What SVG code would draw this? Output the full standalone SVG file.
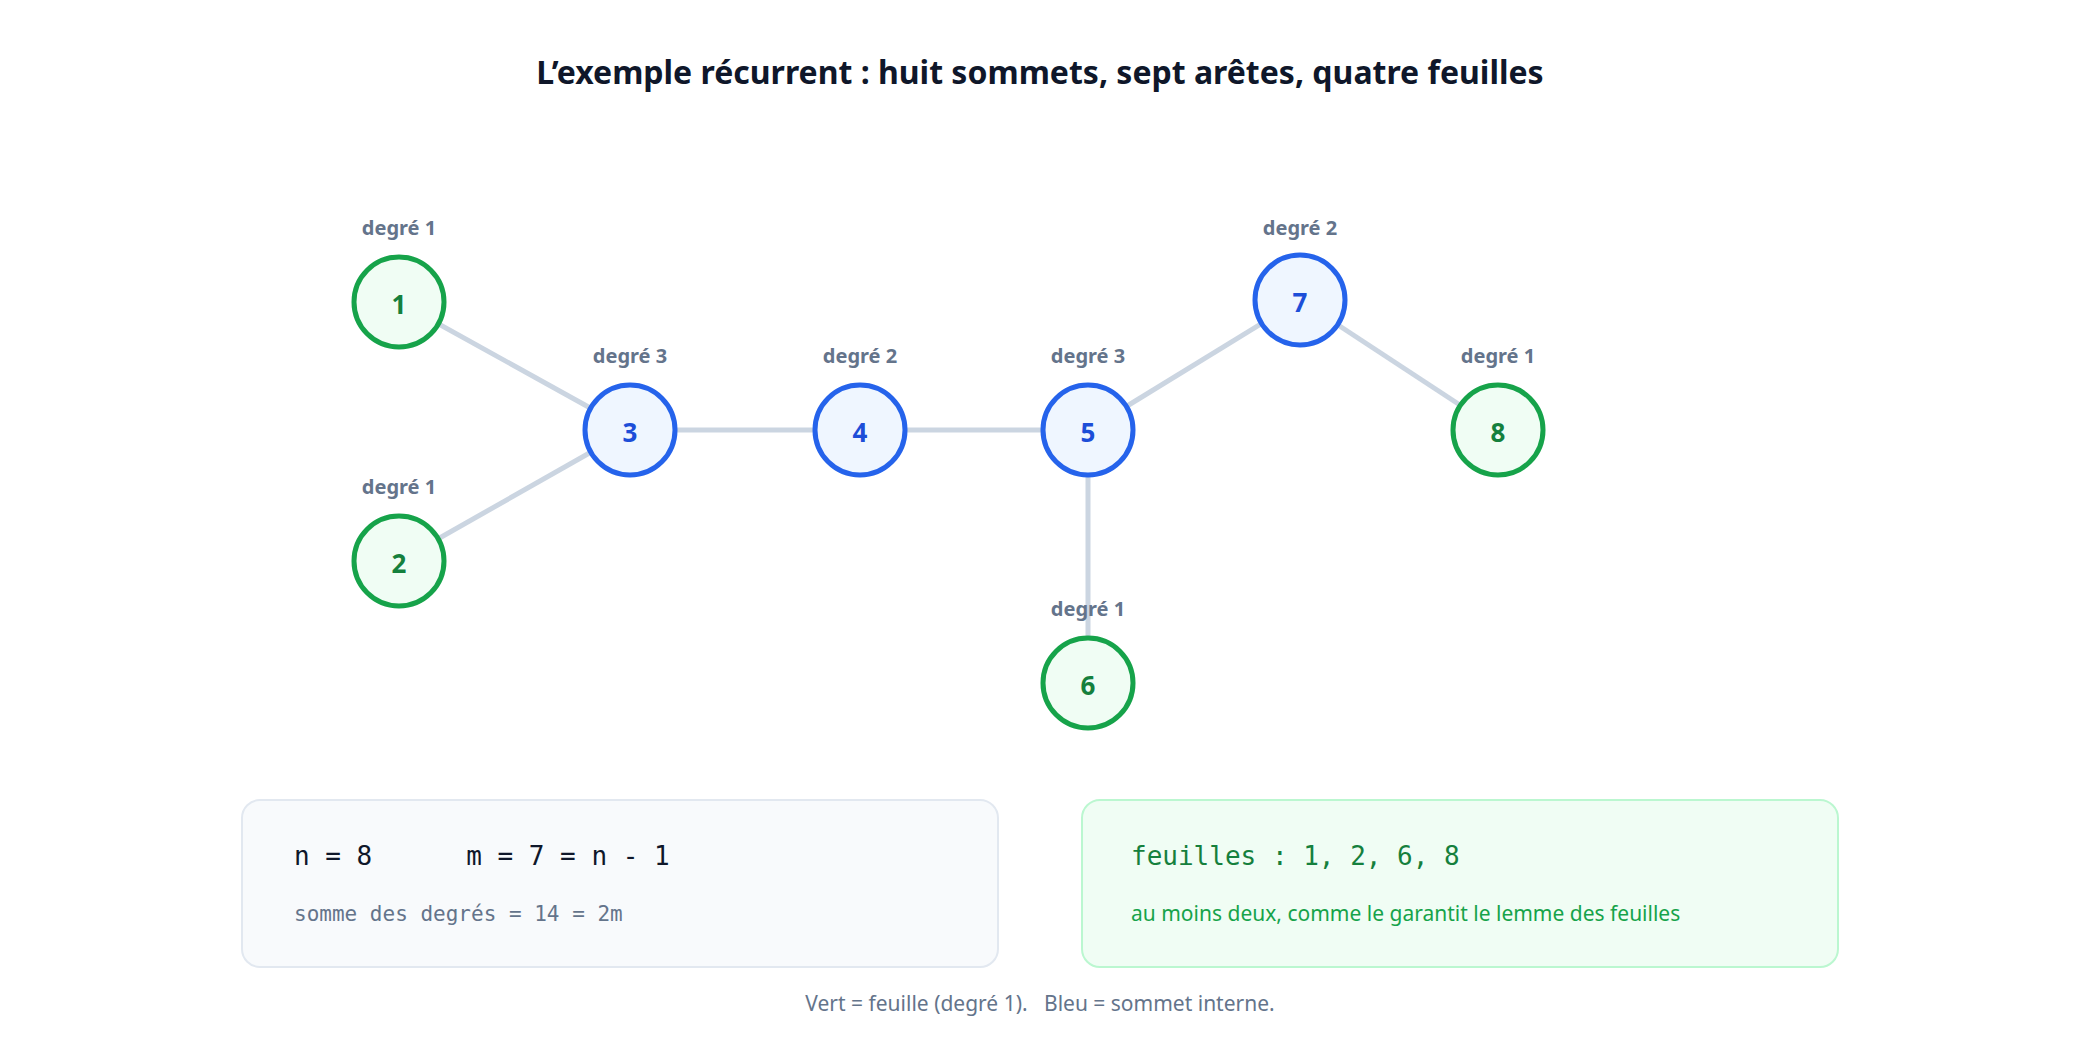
<svg xmlns="http://www.w3.org/2000/svg" width="2080" height="1040" viewBox="0 0 2080 1040">
<style>
text{font-family:"Noto Sans","Open Sans",sans-serif}
.t{font-size:32px;font-weight:bold;fill:#0f172a;text-anchor:middle}
.e{stroke:#cbd5e1;stroke-width:5;fill:none}
.lf circle{fill:#f0fdf4;stroke:#16a34a;stroke-width:5}
.in circle{fill:#eff6ff;stroke:#2563eb;stroke-width:5}
.lf .n{fill:#15803d}
.in .n{fill:#1d4ed8}
.n{font-size:26px;font-weight:bold;text-anchor:middle;dominant-baseline:central}
.d{font-size:20px;font-weight:bold;fill:#64748b;text-anchor:middle}
.m{font-family:"DejaVu Sans Mono",monospace}
</style>
<rect width="2080" height="1040" fill="#fff"/>
<text class="t" x="1040" y="84">L’exemple récurrent : huit sommets, sept arêtes, quatre feuilles</text>
<g id="edges">
<line class="e" x1="399" y1="302" x2="630" y2="430"/>
<line class="e" x1="399" y1="561" x2="630" y2="430"/>
<line class="e" x1="630" y1="430" x2="860" y2="430"/>
<line class="e" x1="860" y1="430" x2="1088" y2="430"/>
<line class="e" x1="1088" y1="430" x2="1088" y2="683"/>
<line class="e" x1="1088" y1="430" x2="1300" y2="300"/>
<line class="e" x1="1300" y1="300" x2="1498" y2="430"/>
</g>
<g id="n1" class="lf"><circle cx="399" cy="302" r="45"/><text class="n" x="399" y="304">1</text><text class="d" x="399" y="235">degré 1</text></g>
<g id="n2" class="lf"><circle cx="399" cy="561" r="45"/><text class="n" x="399" y="563">2</text><text class="d" x="399" y="494">degré 1</text></g>
<g id="n3" class="in"><circle cx="630" cy="430" r="45"/><text class="n" x="630" y="432">3</text><text class="d" x="630" y="363">degré 3</text></g>
<g id="n4" class="in"><circle cx="860" cy="430" r="45"/><text class="n" x="860" y="432">4</text><text class="d" x="860" y="363">degré 2</text></g>
<g id="n5" class="in"><circle cx="1088" cy="430" r="45"/><text class="n" x="1088" y="432">5</text><text class="d" x="1088" y="363">degré 3</text></g>
<g id="n6" class="lf"><circle cx="1088" cy="683" r="45"/><text class="n" x="1088" y="685">6</text><text class="d" x="1088" y="616">degré 1</text></g>
<g id="n7" class="in"><circle cx="1300" cy="300" r="45"/><text class="n" x="1300" y="302">7</text><text class="d" x="1300" y="235">degré 2</text></g>
<g id="n8" class="lf"><circle cx="1498" cy="430" r="45"/><text class="n" x="1498" y="432">8</text><text class="d" x="1498" y="363">degré 1</text></g>
<g id="box1">
<rect x="242" y="800" width="756" height="167" rx="18" fill="#f8fafc" stroke="#e2e8f0" stroke-width="2"/>
<text class="m" x="294" y="865" font-size="26" fill="#0f172a" xml:space="preserve">n = 8      m = 7 = n - 1</text>
<text class="m" x="294" y="921" font-size="21" fill="#64748b">somme des degrés = 14 = 2m</text>
</g>
<g id="box2">
<rect x="1082" y="800" width="756" height="167" rx="18" fill="#f0fdf4" stroke="#bbf7d0" stroke-width="2"/>
<text class="m" x="1131" y="865" font-size="26" fill="#15803d">feuilles : 1, 2, 6, 8</text>
<text x="1131" y="921" font-size="21" fill="#16a34a">au moins deux, comme le garantit le lemme des feuilles</text>
</g>
<text x="1040" y="1011" font-size="21" fill="#64748b" text-anchor="middle" xml:space="preserve">Vert = feuille (degré 1).   Bleu = sommet interne.</text>
</svg>
